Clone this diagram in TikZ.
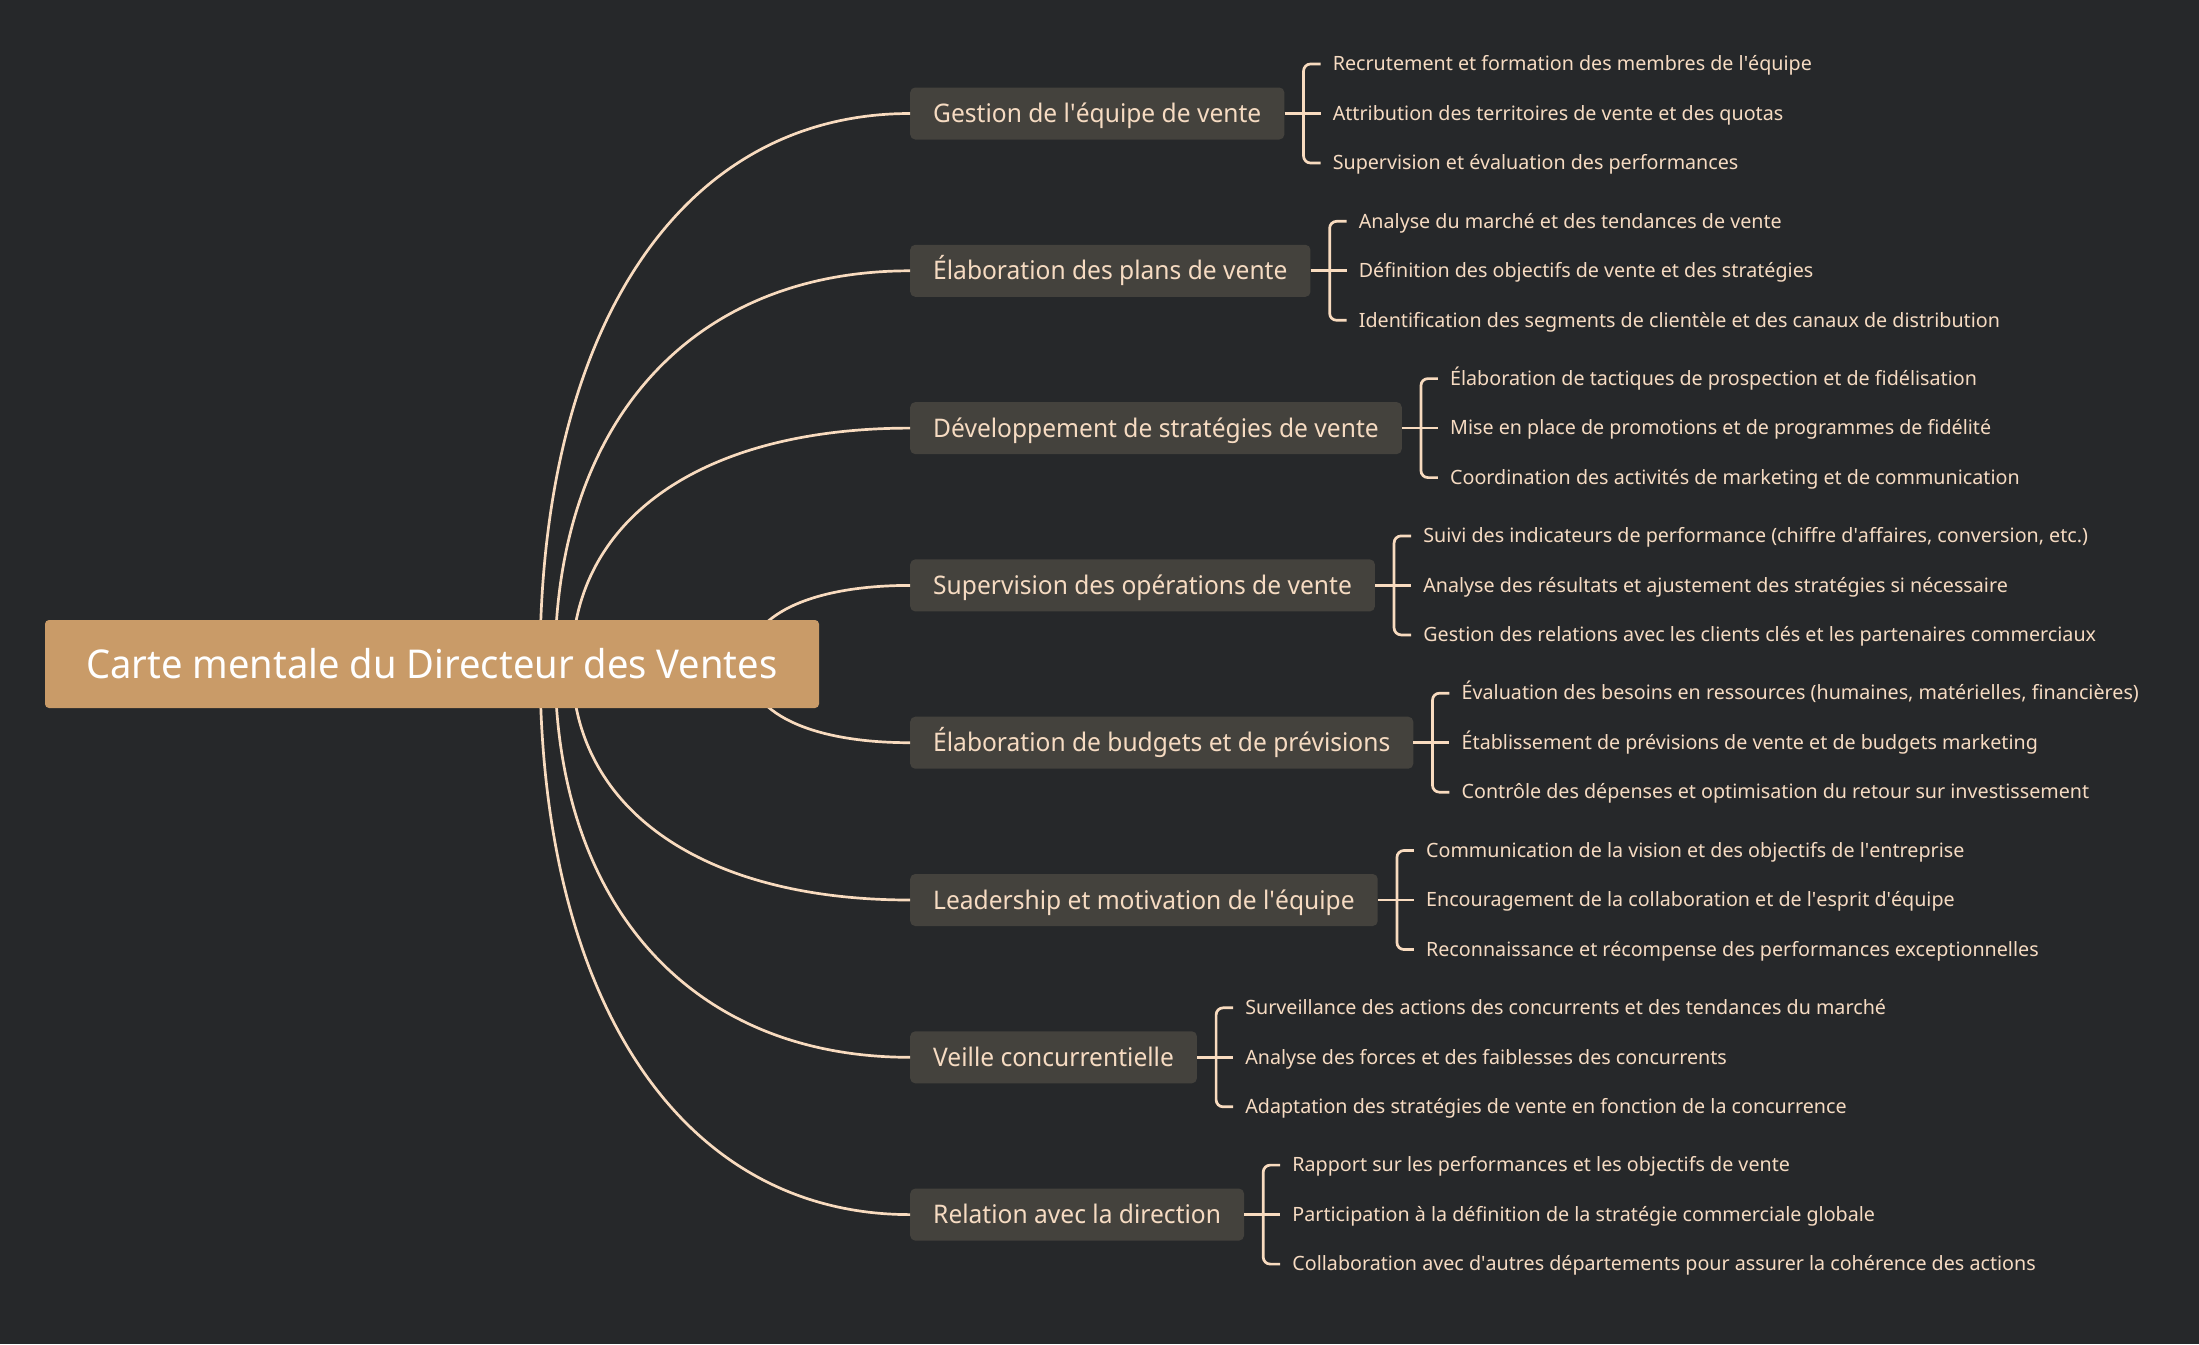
\documentclass[tikz,border=0pt]{standalone}
\usepackage{fontspec}
\setmainfont{Noto Sans}[FakeStretch=0.96]
\newfontfamily\leaffont{Noto Sans}
\usetikzlibrary{calc}
\definecolor{bg}{HTML}{26282A}
\definecolor{peach}{HTML}{F8DBBF}
\definecolor{mainfill}{HTML}{44423D}
\definecolor{rootfill}{HTML}{C99B68}
\definecolor{txt}{HTML}{F6DBC2}
\newcommand{\q}{\textquotesingle}
\begin{document}
\begin{tikzpicture}[x=1pt,y=-1pt,
  rootbox/.style={fill=rootfill, rounded corners=4pt, minimum width=774pt, minimum height=88pt, inner sep=0pt,
    text height=30pt, text depth=2pt, text=white, font=\fontsize{39.7}{44}\selectfont},
  mainbox/.style={fill=mainfill, rounded corners=5pt, minimum height=52pt, inner xsep=23pt, inner ysep=0pt,
    text height=22pt, text depth=3.8pt, anchor=west, text=txt, font=\fontsize{25.6}{30}\selectfont},
  leaf/.style={anchor=west, inner sep=0pt, text height=14pt, text depth=0.6pt, text=txt,
    font=\leaffont\fontsize{19.7}{23}\selectfont},
  curve/.style={draw=peach, line width=2.7pt},
  br/.style={draw=peach, line width=2.7pt, rounded corners=7pt}]
\fill[bg] (0,0) rectangle (2199,1344);

% main topic nodes
\node[mainbox] (m1) at (910,113.5) {Gestion de l\q{}équipe de vente};
\node[mainbox] (m2) at (910,270.8) {Élaboration des plans de vente};
\node[mainbox] (m3) at (910,428.1) {Développement de stratégies de vente};
\node[mainbox] (m4) at (910,585.4) {Supervision des opérations de vente};
\node[mainbox] (m5) at (910,742.7) {Élaboration de budgets et de prévisions};
\node[mainbox] (m6) at (910,900.0) {Leadership et motivation de l\q{}équipe};
\node[mainbox] (m7) at (910,1057.3) {Veille concurrentielle};
\node[mainbox] (m8) at (910,1214.6) {Relation avec la direction};

% start points of curves (under root)
\coordinate (s1) at (540,664);
\coordinate (s2) at (555,664);
\coordinate (s3) at (572,664);
\coordinate (s4) at (747,664);
\coordinate (s5) at (747,664);
\coordinate (s6) at (572,664);
\coordinate (s7) at (555,664);
\coordinate (s8) at (540,664);

\draw[curve] (s1) .. controls (540,328.2) and (680.6,113.5) .. (m1.west);
\draw[curve] (s2) .. controls (555,424.2) and (689.9,270.8) .. (m2.west);
\draw[curve] (s3) .. controls (572,520.1) and (700.4,428.1) .. (m3.west);
\draw[curve] (s4) .. controls (747,616.1) and (808.9,585.4) .. (m4.west);
\draw[curve] (s5) .. controls (747,712.1) and (808.9,742.7) .. (m5.west);
\draw[curve] (s6) .. controls (572,807.8) and (700.4,900.0) .. (m6.west);
\draw[curve] (s7) .. controls (555,903.9) and (689.9,1057.3) .. (m7.west);
\draw[curve] (s8) .. controls (540,999.9) and (680.6,1214.6) .. (m8.west);

% root
\node[rootbox] (root) at (432,664) {Carte mentale du Directeur des Ventes};

% leaves
\foreach \i/\a/\b/\c in {
 1/{Recrutement et formation des membres de l\q{}équipe}/{Attribution des territoires de vente et des quotas}/{Supervision et évaluation des performances},
 2/{Analyse du marché et des tendances de vente}/{Définition des objectifs de vente et des stratégies}/{Identification des segments de clientèle et des canaux de distribution},
 3/{Élaboration de tactiques de prospection et de fidélisation}/{Mise en place de promotions et de programmes de fidélité}/{Coordination des activités de marketing et de communication},
 4/{Suivi des indicateurs de performance (chiffre d\q{}affaires, conversion, etc.)}/{Analyse des résultats et ajustement des stratégies si nécessaire}/{Gestion des relations avec les clients clés et les partenaires commerciaux},
 5/{Évaluation des besoins en ressources (humaines, matérielles, financières)}/{Établissement de prévisions de vente et de budgets marketing}/{Contrôle des dépenses et optimisation du retour sur investissement},
 6/{Communication de la vision et des objectifs de l\q{}entreprise}/{Encouragement de la collaboration et de l\q{}esprit d\q{}équipe}/{Reconnaissance et récompense des performances exceptionnelles},
 7/{Surveillance des actions des concurrents et des tendances du marché}/{Analyse des forces et des faiblesses des concurrents}/{Adaptation des stratégies de vente en fonction de la concurrence},
 8/{Rapport sur les performances et les objectifs de vente}/{Participation à la définition de la stratégie commerciale globale}/{Collaboration avec d\q{}autres départements pour assurer la cohérence des actions}}
{
  \node[leaf] (l\i a) at ($(m\i.east)+(48,-49.5)$) {\a};
  \node[leaf] (l\i b) at ($(m\i.east)+(48,0)$) {\b};
  \node[leaf] (l\i c) at ($(m\i.east)+(48,49.5)$) {\c};
  \coordinate (b\i) at ($(m\i.east)+(19,0)$);
  \coordinate (t\i) at ($(m\i.east)+(36,-49.5)$);
  \coordinate (u\i) at ($(m\i.east)+(36,49.5)$);
  \coordinate (v\i) at ($(m\i.east)+(36,0)$);
  \draw[br] (t\i) -| (b\i) |- (u\i);
  \draw[curve] (m\i.east) -- (v\i);
}
\end{tikzpicture}
\end{document}
